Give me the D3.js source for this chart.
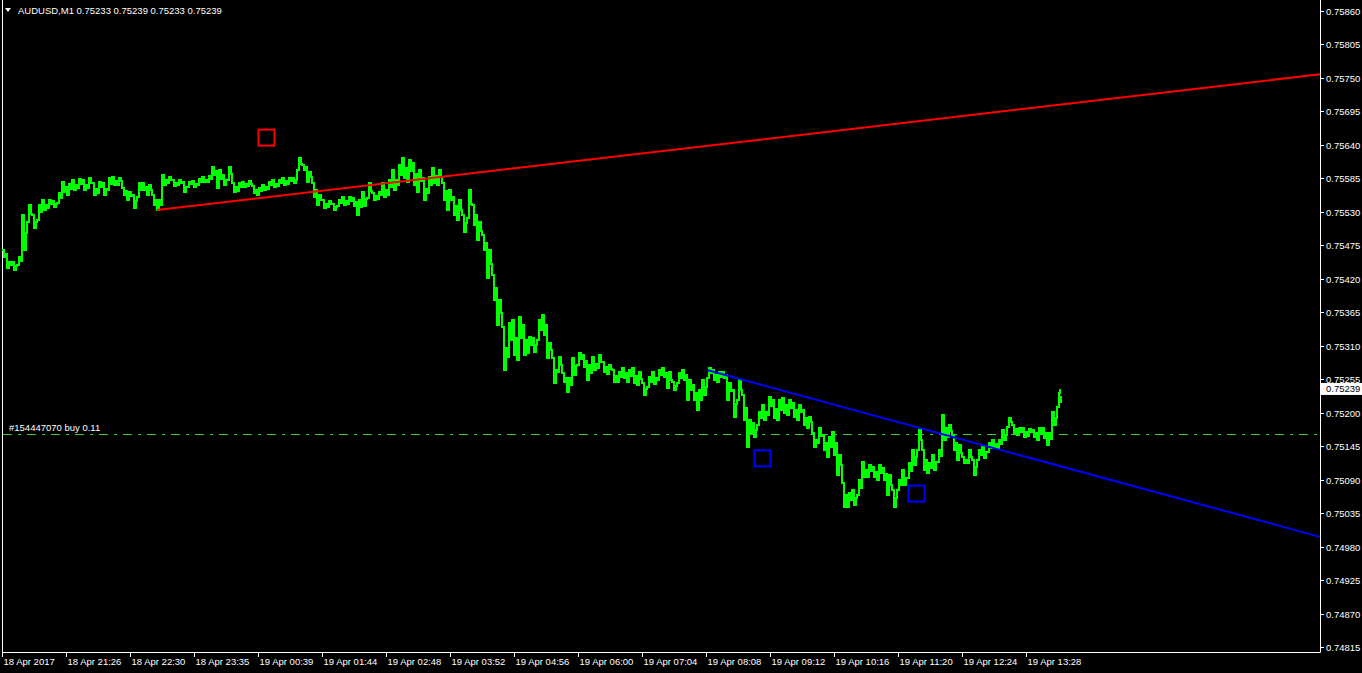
<!DOCTYPE html>
<html>
<head>
<meta charset="utf-8">
<script src="https://cdn.jsdelivr.net/npm/d3@7/dist/d3.min.js"></script>
<style>
  html, body { margin: 0; padding: 0; background: #000; }
  svg { display: block; }
  text { font-family: "Liberation Sans", Arial, sans-serif; font-size: 9.5px; fill: #fff; }
</style>
</head>
<body>
<svg id="chart" width="1362" height="673"></svg>
<script>
// ---------------- DATA ----------------
const symbolTitle = "AUDUSD,M1  0.75233 0.75239 0.75233 0.75239";
const orderLabel = "#154447070 buy 0.11";
const orderPrice = 0.75165;
const lastPrice = 0.75239;
const totalBars = 1318;

const xTickLabels = ["18 Apr 2017","18 Apr 21:26","18 Apr 22:30","18 Apr 23:35","19 Apr 00:39","19 Apr 01:44","19 Apr 02:48","19 Apr 03:52","19 Apr 04:56","19 Apr 06:00","19 Apr 07:04","19 Apr 08:08","19 Apr 09:12","19 Apr 10:16","19 Apr 11:20","19 Apr 12:24","19 Apr 13:28"];
const xTickBars = [0,64,128,192,256,320,384,448,512,576,640,704,768,832,896,960,1024];
const yTicks = [0.75860,0.75805,0.75750,0.75695,0.75640,0.75585,0.75530,0.75475,0.75420,0.75365,0.75310,0.75255,0.75200,0.75145,0.75090,0.75035,0.74980,0.74925,0.74870,0.74815];

// sampled minute bars (bar offset from first bar), high and low
const barOffset = [0,5,10,15,20,25,30,35,40,45,50,55,60,65,70,75,80,85,90,95,100,105,110,115,120,125,130,135,140,145,150,155,160,165,170,175,180,185,190,195,200,205,210,215,220,225,230,235,240,245,250,255,260,265,270,275,280,285,290,295,300,305,310,315,320,325,330,335,340,345,350,355,360,365,370,375,380,385,390,395,400,405,410,415,420,425,430,435,440,445,450,455,460,465,470,475,480,485,490,495,500,505,510,515,520,525,530,535,540,545,550,555,560,565,570,575,580,585,590,595,600,605,610,615,620,625,630,635,640,645,650,655,660,665,670,675,680,685,690,695,700,705,710,715,720,725,730,735,740,745,750,755,760,765,770,775,780,785,790,795,800,805,810,815,820,825,830,835,840,845,850,855,860,865,870,875,880,885,890,895,900,905,910,915,920,925,930,935,940,945,950,955,960,965,970,975,980,985,990,995,1000,1005,1010,1015,1020,1025,1030,1035,1040,1045,1050,1055,1058];
const highPrice = [0.75467,0.75448,0.75448,0.75456,0.75525,0.75541,0.75525,0.75541,0.75550,0.75550,0.75548,0.75561,0.75579,0.75576,0.75582,0.75584,0.75582,0.75586,0.75577,0.75579,0.75577,0.75586,0.75587,0.75586,0.75569,0.75563,0.75558,0.75577,0.75577,0.75574,0.75558,0.75550,0.75590,0.75587,0.75582,0.75582,0.75579,0.75579,0.75581,0.75584,0.75587,0.75589,0.75604,0.75599,0.75590,0.75604,0.75577,0.75577,0.75579,0.75581,0.75572,0.75569,0.75574,0.75579,0.75582,0.75582,0.75586,0.75586,0.75586,0.75618,0.75607,0.75595,0.75577,0.75558,0.75550,0.75548,0.75543,0.75550,0.75554,0.75554,0.75553,0.75550,0.75563,0.75577,0.75561,0.75563,0.75577,0.75582,0.75599,0.75607,0.75618,0.75615,0.75610,0.75599,0.75586,0.75587,0.75602,0.75599,0.75577,0.75566,0.75554,0.75550,0.75525,0.75566,0.75541,0.75513,0.75492,0.75467,0.75426,0.75385,0.75341,0.75347,0.75352,0.75357,0.75344,0.75324,0.75323,0.75352,0.75360,0.75315,0.75290,0.75291,0.75265,0.75257,0.75290,0.75298,0.75295,0.75278,0.75291,0.75295,0.75283,0.75278,0.75270,0.75267,0.75273,0.75270,0.75273,0.75267,0.75249,0.75259,0.75267,0.75270,0.75273,0.75267,0.75250,0.75265,0.75270,0.75254,0.75245,0.75237,0.75254,0.75273,0.75270,0.75267,0.75267,0.75249,0.75237,0.75254,0.75229,0.75188,0.75183,0.75201,0.75213,0.75226,0.75221,0.75221,0.75224,0.75221,0.75216,0.75213,0.75204,0.75193,0.75167,0.75175,0.75163,0.75160,0.75168,0.75131,0.75085,0.75068,0.75073,0.75089,0.75119,0.75114,0.75111,0.75114,0.75109,0.75098,0.75073,0.75089,0.75106,0.75117,0.75139,0.75172,0.75139,0.75117,0.75131,0.75139,0.75196,0.75180,0.75163,0.75147,0.75127,0.75139,0.75122,0.75139,0.75144,0.75150,0.75155,0.75155,0.75172,0.75191,0.75180,0.75175,0.75175,0.75173,0.75172,0.75175,0.75175,0.75167,0.75201,0.75226,0.75239];
const lowPrice = [0.75456,0.75438,0.75434,0.75443,0.75467,0.75513,0.75503,0.75517,0.75533,0.75536,0.75538,0.75545,0.75563,0.75558,0.75566,0.75569,0.75566,0.75569,0.75558,0.75561,0.75558,0.75566,0.75574,0.75574,0.75558,0.75550,0.75536,0.75554,0.75566,0.75558,0.75541,0.75533,0.75574,0.75577,0.75572,0.75574,0.75563,0.75571,0.75571,0.75574,0.75579,0.75579,0.75590,0.75569,0.75574,0.75582,0.75563,0.75564,0.75571,0.75572,0.75561,0.75558,0.75566,0.75568,0.75571,0.75572,0.75574,0.75576,0.75577,0.75599,0.75599,0.75579,0.75554,0.75541,0.75536,0.75538,0.75533,0.75540,0.75541,0.75543,0.75540,0.75525,0.75540,0.75553,0.75550,0.75551,0.75554,0.75558,0.75566,0.75574,0.75586,0.75579,0.75574,0.75563,0.75550,0.75561,0.75577,0.75574,0.75550,0.75533,0.75525,0.75517,0.75497,0.75520,0.75508,0.75484,0.75467,0.75421,0.75385,0.75344,0.75270,0.75291,0.75295,0.75287,0.75295,0.75298,0.75300,0.75319,0.75328,0.75290,0.75249,0.75267,0.75250,0.75234,0.75262,0.75278,0.75275,0.75254,0.75270,0.75273,0.75267,0.75264,0.75250,0.75250,0.75257,0.75250,0.75249,0.75245,0.75229,0.75242,0.75247,0.75254,0.75259,0.75241,0.75237,0.75249,0.75254,0.75221,0.75221,0.75204,0.75229,0.75257,0.75254,0.75250,0.75257,0.75221,0.75193,0.75221,0.75188,0.75144,0.75160,0.75180,0.75188,0.75196,0.75191,0.75188,0.75200,0.75196,0.75193,0.75188,0.75180,0.75175,0.75144,0.75150,0.75139,0.75127,0.75131,0.75098,0.75045,0.75045,0.75048,0.75065,0.75094,0.75094,0.75094,0.75089,0.75089,0.75065,0.75045,0.75073,0.75081,0.75093,0.75114,0.75139,0.75106,0.75101,0.75106,0.75119,0.75155,0.75160,0.75139,0.75122,0.75117,0.75117,0.75098,0.75122,0.75126,0.75135,0.75142,0.75142,0.75155,0.75177,0.75167,0.75163,0.75160,0.75162,0.75160,0.75155,0.75158,0.75147,0.75180,0.75209,0.75233];

// trend lines [bar, price] -> [bar, price]
const redTrend = [[155, 0.75533], [1318, 0.75756]];
const blueTrend = [[705, 0.75270], [1318, 0.74996]];
// signal squares
const squareBars = [264.5, 760.5, 914.5];
const squarePrices = [0.75652, 0.75125, 0.75067];
const squareColors = ["#ff0000", "#0000ff", "#0000ff"];

// ---------------- DRAW ----------------
const svg = d3.select("#chart");
const W = 1362, H = 673;
const plot = { left: 2, right: 1320, top: 0, bottom: 652 };

svg.append("rect").attr("width", W).attr("height", H).attr("fill", "#000");

const x = d3.scaleLinear().domain([0, totalBars]).range([plot.left, plot.right]);
const y = d3.scaleLinear().domain([0.74815, 0.75860]).range([647, 11]);

// frame
svg.append("path")
  .attr("d", `M${plot.left + 0.5},${plot.top}V${plot.bottom + 0.5}H${plot.right + 0.5}V${plot.top}`)
  .attr("fill", "none").attr("stroke", "#fff").attr("stroke-width", 1);

// y axis
const yAxis = svg.append("g");
yTicks.forEach(v => {
  const yy = Math.round(y(v)) + 0.5;
  yAxis.append("line").attr("x1", plot.right).attr("x2", plot.right + 4)
    .attr("y1", yy).attr("y2", yy).attr("stroke", "#fff");
  yAxis.append("text").attr("x", plot.right + 6).attr("y", yy + 3.5).text(v.toFixed(5));
});

// x axis
const xAxis = svg.append("g");
xTickBars.forEach((b, i) => {
  const xx = Math.round(x(b)) + 0.5;
  xAxis.append("line").attr("x1", xx).attr("x2", xx)
    .attr("y1", plot.bottom).attr("y2", plot.bottom + 5).attr("stroke", "#fff");
  xAxis.append("text").attr("x", xx + 1).attr("y", plot.bottom + 13).text(xTickLabels[i]);
});

// order line
svg.append("line")
  .attr("x1", plot.left + 1).attr("x2", plot.right)
  .attr("y1", Math.round(y(orderPrice)) + 0.5).attr("y2", Math.round(y(orderPrice)) + 0.5)
  .attr("stroke", "#32cd32").attr("stroke-width", 1)
  .attr("stroke-dasharray", "9,6,3,6");
svg.append("text").attr("x", 9).attr("y", y(orderPrice) - 3).text(orderLabel);

// price series (step zigzag between sampled highs and lows, like 1px minute bars)
const pts = [];
barOffset.forEach((b, i) => {
  const last = i === barOffset.length - 1;
  if (last) {
    pts.push([b - 1, lowPrice[i]], [b, highPrice[i]]);
  } else if (i % 2 === 0) {
    pts.push([b, highPrice[i]], [b + 2, lowPrice[i]], [b + 3.5, (highPrice[i] + lowPrice[i]) / 2]);
  } else {
    pts.push([b, lowPrice[i]], [b + 2, highPrice[i]], [b + 3.5, (highPrice[i] + lowPrice[i]) / 2]);
  }
});
svg.append("path")
  .attr("d", d3.line().curve(d3.curveStepAfter).x(d => x(d[0])).y(d => y(d[1]))(pts))
  .attr("fill", "none").attr("stroke", "#00ff00").attr("stroke-width", 2)
  .attr("shape-rendering", "crispEdges");

// trend lines
[[redTrend, "#ff0000"], [blueTrend, "#0000ff"]].forEach(([t, c]) => {
  svg.append("line")
    .attr("x1", x(t[0][0])).attr("y1", y(t[0][1]))
    .attr("x2", x(t[1][0])).attr("y2", y(t[1][1]))
    .attr("stroke", c).attr("stroke-width", 2);
});

// signal squares
squareBars.forEach((b, i) => {
  const cx = x(b), cy = y(squarePrices[i]);
  svg.append("rect").attr("x", cx - 8).attr("y", cy - 8)
    .attr("width", 16).attr("height", 16)
    .attr("fill", "none").attr("stroke", squareColors[i]).attr("stroke-width", 2);
});

// current price marker
const ly = y(lastPrice);
svg.append("rect").attr("x", plot.right + 1).attr("y", ly - 6)
  .attr("width", W - plot.right - 1).attr("height", 12).attr("fill", "#fff");
svg.append("text").attr("x", plot.right + 6).attr("y", ly + 3.5)
  .style("fill", "#000").text(lastPrice.toFixed(5));

// header
svg.append("path").attr("d", "M5,8L11,8L8,12Z").attr("fill", "#fff");
svg.append("text").attr("x", 18).attr("y", 14).text(symbolTitle);
</script>
</body>
</html>
